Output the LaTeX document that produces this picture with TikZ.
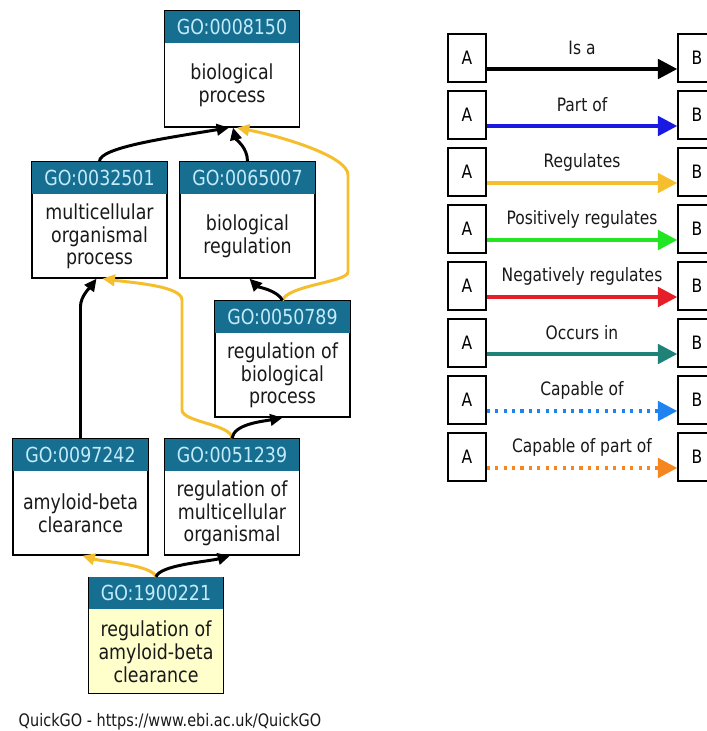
\documentclass[tikz,border=0pt]{standalone}
\usepackage{fontspec}
\setmainfont{DejaVu Sans}[FakeStretch=0.84]
\usetikzlibrary{arrows.meta,positioning,calc}
\definecolor{gohead}{RGB}{22,110,145}
\definecolor{goid}{RGB}{195,235,250}
\definecolor{gotxt}{RGB}{25,25,25}
\definecolor{chosen}{RGB}{255,255,204}
\definecolor{isacol}{RGB}{0,0,0}
\definecolor{partcol}{RGB}{25,25,225}
\definecolor{regcol}{RGB}{245,190,45}
\definecolor{poscol}{RGB}{35,230,35}
\definecolor{negcol}{RGB}{230,30,40}
\definecolor{occcol}{RGB}{30,130,120}
\definecolor{capcol}{RGB}{30,130,240}
\definecolor{cppcol}{RGB}{245,135,30}
\tikzset{
  term/.style={draw=black, line width=0.8pt, fill=white, minimum width=2.7cm,
    minimum height=2.32cm, inner sep=0pt},
  head/.style={fill=gohead, text=goid, anchor=north, minimum width=2.7cm,
    minimum height=0.64cm, inner sep=0pt, font=\fontsize{11.8}{13}\selectfont},
  desc/.style={text=gotxt, align=center, inner sep=0pt, font=\fontsize{11.8}{13}\selectfont},
  foot/.style={text=gotxt, inner sep=0pt, font=\fontsize{9.8}{11}\selectfont},
  % edges
  edge/.style={line width=1.7pt, -{Triangle[length=7pt,width=6.5pt]}},
  isa/.style={draw=isacol},
  partof/.style={draw=partcol},
  regl/.style={draw=regcol},
  posreg/.style={draw=poscol},
  negreg/.style={draw=negcol},
  occurs/.style={draw=occcol},
  capof/.style={draw=capcol, dash pattern=on 1.8pt off 3pt},
  cappart/.style={draw=cppcol, dash pattern=on 1.8pt off 3pt},
  % legend
  lbox/.style={draw=black, line width=0.8pt, minimum width=0.76cm, minimum height=0.96cm,
    inner sep=0pt, font=\fontsize{10.5}{12}\selectfont},
  lbl/.style={text=gotxt, inner sep=0pt, font=\fontsize{10.5}{12}\selectfont},
  lgd/.style={line width=2.2pt, -{Triangle[length=11pt,width=11pt]}}
}
\begin{document}
\begin{tikzpicture}[x=0.02cm, y=-0.02cm]
  \fill[white] (0,0) rectangle (707,731);
  \useasboundingbox (0,0) rectangle (707,731);
  \def\go#1#2#3#4#5{
    \node[term,#5] (#1) at (#2) {};
    \node[head] (#1-h) at (#1.north) {#3};
    \node[desc] (#1-d) at ($(#1.south)!0.5!(#1-h.south)$) {#4};
  }
  \go{bp}{232,69}{GO:0008150}{biological\\process}{}
  \go{mop}{99.5,220}{GO:0032501}{multicellular\\organismal\\process}{}
  \go{breg}{247.5,220}{GO:0065007}{biological\\regulation}{}
  \go{rbp}{282.5,359}{GO:0050789}{regulation of\\biological\\process}{}
  \go{abc}{80.5,497}{GO:0097242}{amyloid-beta\\clearance}{}
  \go{rmop}{232,497}{GO:0051239}{regulation of\\multicellular\\organismal}{}
  \go{rabc}{156,635.5}{GO:1900221}{regulation of\\amyloid-beta\\clearance}{fill=chosen}
  \node[foot] (src) at (170,722) {QuickGO - https://www.ebi.ac.uk/QuickGO};

  \draw[edge,isa] (mop.north) .. controls +(0,-14) and +(-60,10) .. ($(bp.south)+(-3,0)$);
  \draw[edge,isa] (breg.north) .. controls +(0,-14) and +(3,12) .. ($(bp.south)+(1,0)$);
  \draw[edge,regl] (rbp.north) .. controls +(5,-15) and +(0,10) .. (348,272)
    -- (348,175) .. controls +(0,-18) and +(50,10) .. ($(bp.south)+(5,0)$);
  \draw[edge,isa] (rbp.north) .. controls +(-5,-10) and +(8,8) .. ($(breg.south)+(2,0)$);
  \draw[edge,isa] (abc.north) -- ($(abc.north)+(0,-132)$)
    .. controls +(0,-10) and +(-6,8) .. ($(mop.south)+(-3,0)$);
  \draw[edge,regl] (rmop.north) .. controls +(0,-14) and +(0,12) .. (182,410)
    -- (182,300) .. controls +(0,-14) and +(30,4) .. ($(mop.south)+(3,0)$);
  \draw[edge,isa] (rmop.north) .. controls +(2,-14) and +(-22,4) .. (rbp.south);
  \draw[edge,regl] (rabc.north) .. controls +(-4,-12) and +(20,6) .. ($(abc.south)+(2,0)$);
  \draw[edge,isa] (rabc.north) .. controls +(4,-12) and +(-22,6) .. ($(rmop.south)+(-2,0)$);

  \foreach \i/\lname/\sty in {0/Is a/isa, 1/Part of/partof, 2/Regulates/regl,
      3/Positively regulates/posreg, 4/Negatively regulates/negreg,
      5/Occurs in/occurs, 6/Capable of/capof, 7/Capable of part of/cappart}{
    \node[lbox] (A\i) at (467,58+57*\i) {A};
    \node[lbox] (B\i) at (697,58+57*\i) {B};
    \node[lbl] (L\i) at ($(A\i)!0.5!(B\i)+(0,-10)$) {\lname};
    \draw[lgd,\sty] ($(A\i.east)+(0,11)$) -- ($(B\i.west)+(0,11)$);
  }
\end{tikzpicture}
\end{document}
